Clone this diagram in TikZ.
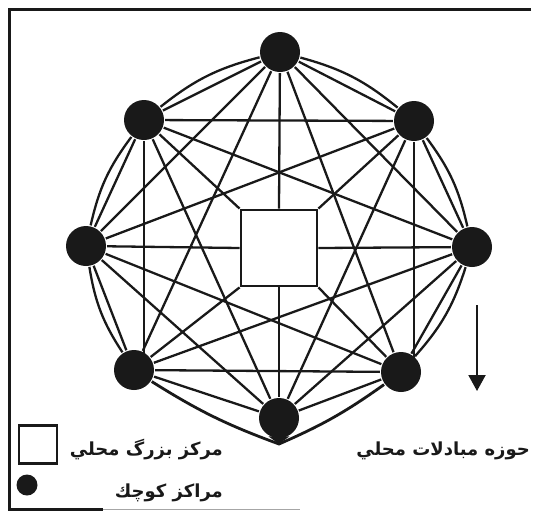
\documentclass[tikz,border=0pt]{standalone}
\usepackage{fontspec}
\newfontfamily\arabicfont[Script=Arabic]{DejaVu Sans}
\TeXXeTstate=1
\usetikzlibrary{arrows.meta}
\begin{document}
\begin{tikzpicture}
  [x=1pt,y=-1pt,line width=2.3pt,color=black!90,every node/.style={circle,fill=black!90,minimum size=40pt,inner sep=0pt}]
  \tikzstyle{hub} = [draw,fill=white,shape=rectangle,minimum size=76pt,line width=2.8pt]
  \tikzstyle{legendtext} = [fill=none,shape=rectangle,minimum size=0pt,inner sep=0pt,font=\arabicfont\bfseries\fontsize{18}{21}\selectfont]
  \useasboundingbox (0,0) rectangle (540,512);

  % frame
  \coordinate (f1) at (531,9.5);
  \coordinate (f2) at (9.5,9.5);
  \coordinate (f3) at (9.5,509.5);
  \coordinate (f4) at (103,509.5);
  \coordinate (f5) at (300,509.5);
  \draw[line width=2.6pt] (f1) -- (f2) -- (f3) -- (f4);
  \draw[line width=1pt,black!35] (f4) -- (f5);

  \node (c1) at (280,52)  {};
  \node (c2) at (414,121) {};
  \node (c3) at (472,247) {};
  \node (c4) at (401,372) {};
  \node (c5) at (279,418) {};
  \node (c6) at (134,370) {};
  \node (c7) at (86,246)  {};
  \node (c8) at (144,120) {};
  \node[hub] (hub) at (279,248) {};
  \coordinate (tip) at (279,444);
  \fill (c5.240) -- (tip) -- (c5.300) -- cycle;

  % chords
  \foreach \source/\dest in {c1/c2,c2/c3,c3/c4,c4/c5,c5/c6,c6/c7,c7/c8,c8/c1,
      c1/c3,c3/c5,c5/c7,c7/c1,c8/c2,c4/c6,
      c1/c4,c2/c5,c3/c6,c4/c7,c5/c8,c6/c1,c7/c2,c8/c3}
    \draw (\source) -- (\dest);

  % outer ring
  \foreach \source/\dest in {c1/c2,c2/c3,c3/c4,c6/c7,c7/c8,c8/c1}
    \draw (\source) to[bend left=12] (\dest);
  \draw[line width=2.8pt] (c4) to[bend left=6] (tip) to[bend left=6] (c6);

  % through the centre
  \foreach \source/\dest in {c1/north,c2/north east,c3/east,c4/south east,
      c5/south,c6/south west,c7/west,c8/north west}
    \draw (\source) -- (hub.\dest);
  \draw (c8) -- (c8 |- c6);
  \draw (c2) -- (c2 |- c4);

  % arrow
  \coordinate (arrtop) at (477,305);
  \coordinate (arrtip) at (477,391);
  \draw[-{Triangle[width=17pt,length=16pt]},line width=2pt] (arrtop) -- (arrtip);

  % legend
  \node[hub,minimum size=38pt,line width=2.4pt] (bigkey) at (38,444.5) {};
  \node[minimum size=21pt] (smallkey) at (27,485) {};
  \node[legendtext,anchor=base east] (bigtext) at (224,455) {\beginR مركز بزرگ محلي\endR};
  \node[legendtext,anchor=base east] (smalltext) at (224,497) {\beginR مراكز كوچك\endR};
  \node[legendtext,anchor=base east] (areatext) at (531,455) {\beginR حوزه مبادلات محلي\endR};
\end{tikzpicture}
\end{document}
